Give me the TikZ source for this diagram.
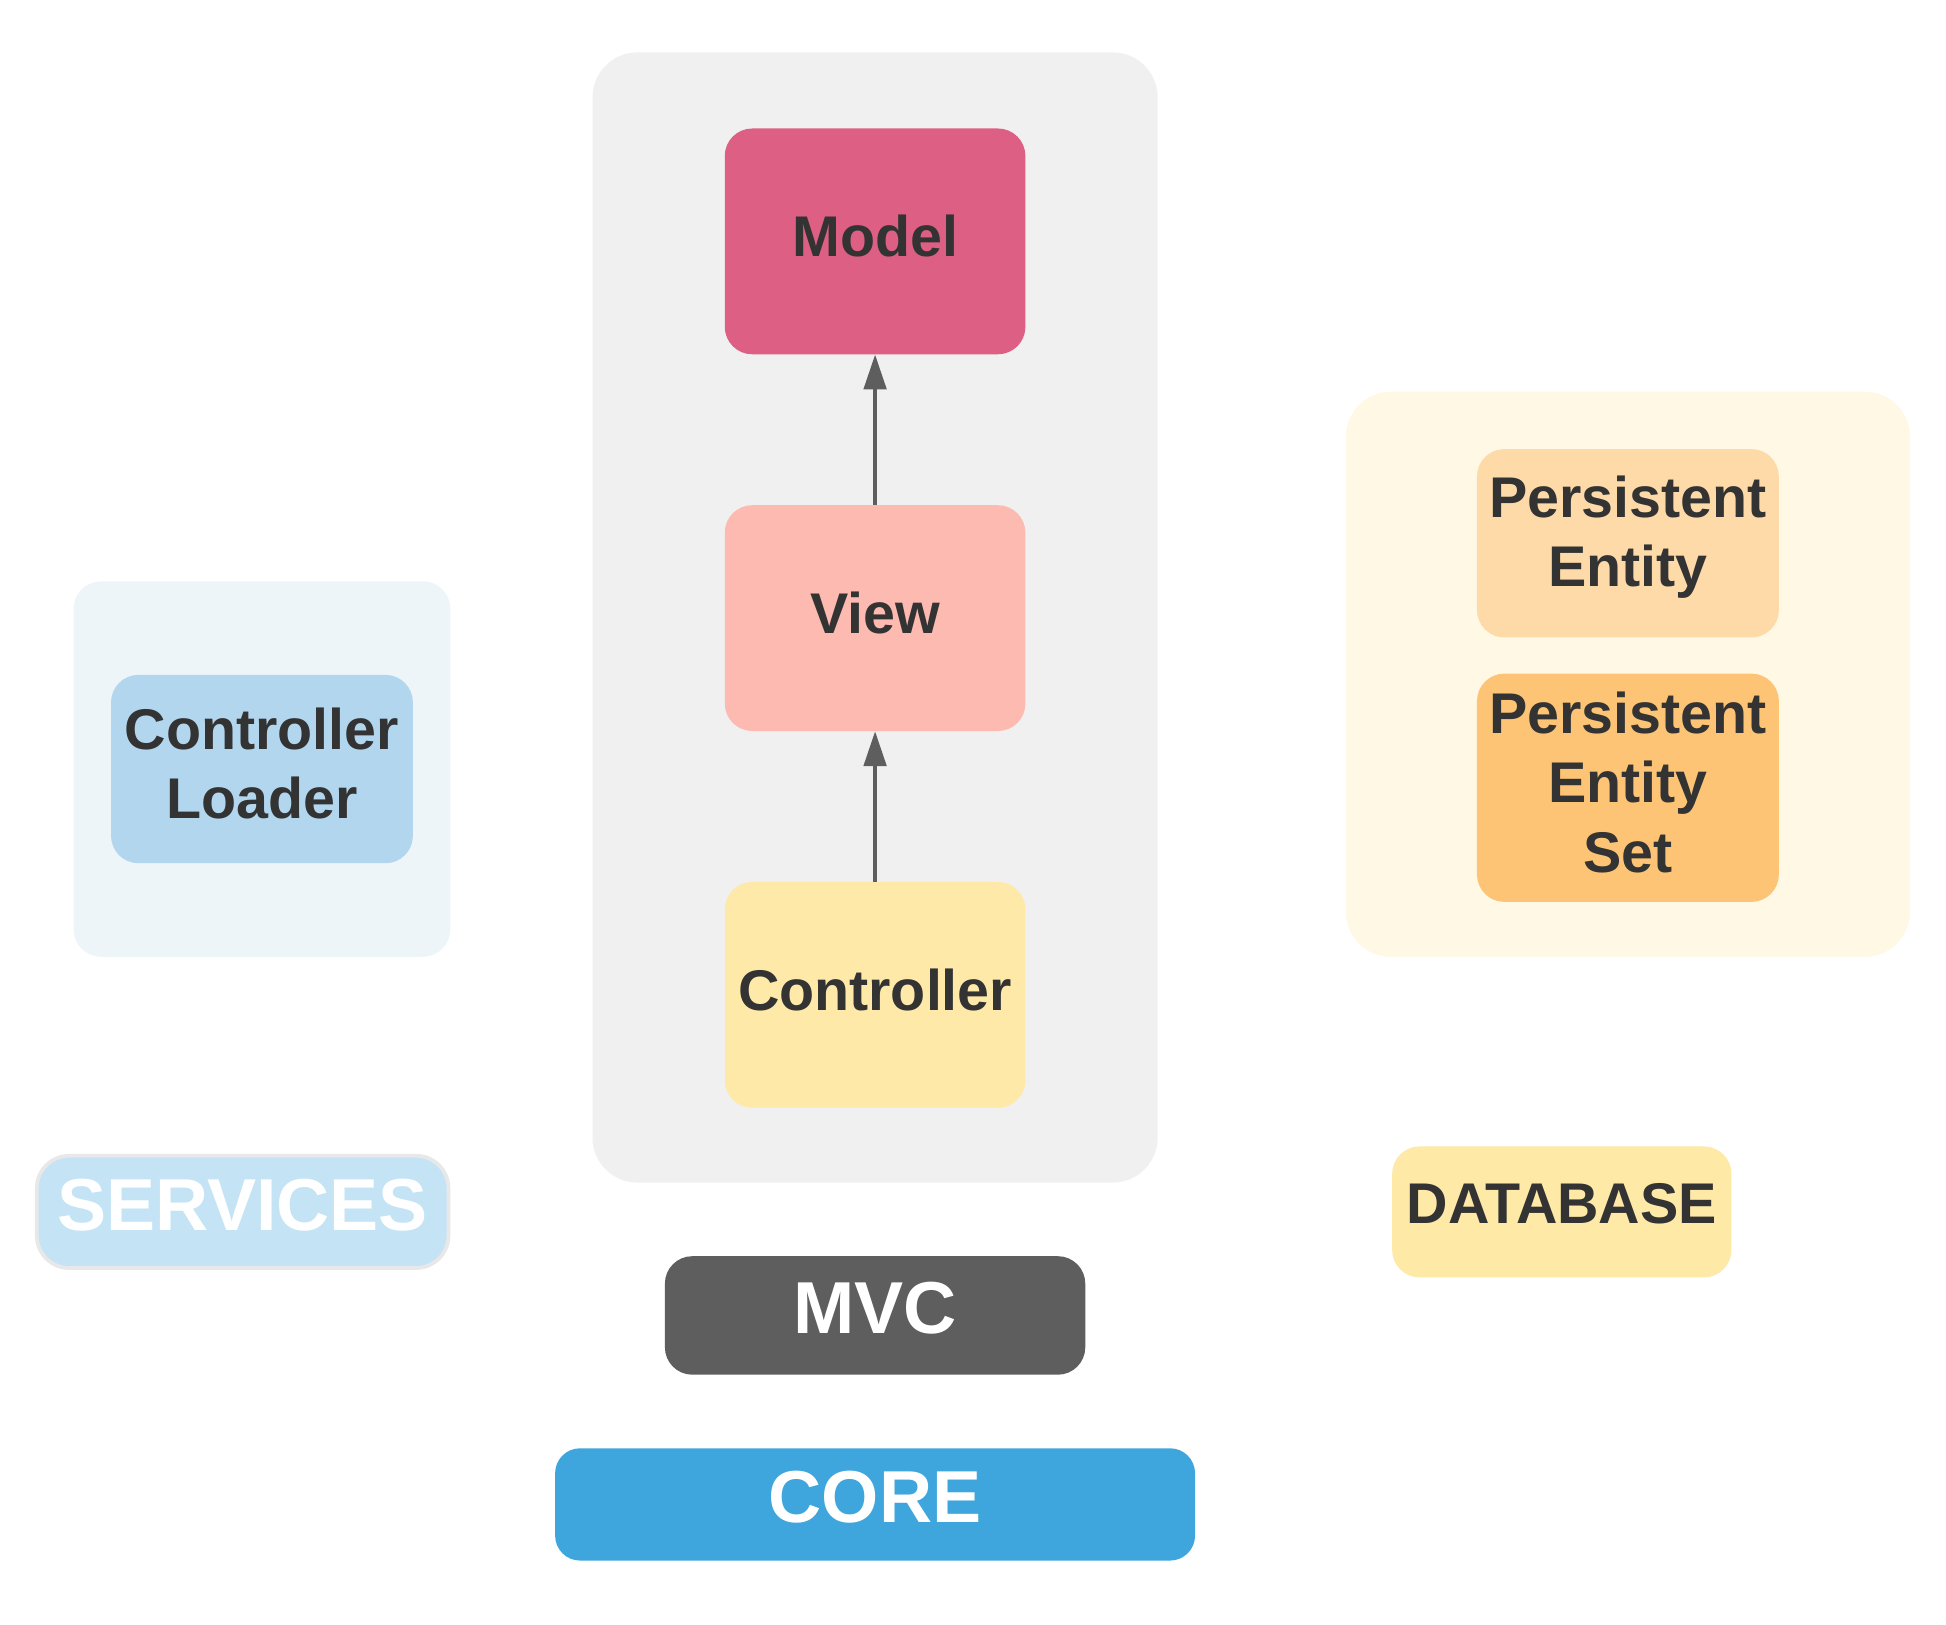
\documentclass[tikz,border=0pt]{standalone}
\usepackage{fontspec}
\setmainfont{Liberation Sans}
\usetikzlibrary{arrows.meta}
\definecolor{txt}{HTML}{333333}
\definecolor{mvcbg}{HTML}{F0F0F0}
\definecolor{modelc}{HTML}{DE5F84}
\definecolor{viewc}{HTML}{FDBAB0}
\definecolor{ctrlc}{HTML}{FEE9A9}
\definecolor{svcbg}{HTML}{EEF5F9}
\definecolor{loaderc}{HTML}{B3D6EF}
\definecolor{svclbl}{HTML}{C4E4F6}
\definecolor{svcborder}{HTML}{E8E8E8}
\definecolor{dbbg}{HTML}{FFF8E5}
\definecolor{pec}{HTML}{FDDAA7}
\definecolor{pesc}{HTML}{FDC475}
\definecolor{dblbl}{HTML}{FEE9A7}
\definecolor{mvclbl}{HTML}{5E5E5E}
\definecolor{corec}{HTML}{3EA6DD}
\definecolor{arrowc}{HTML}{5E5E5E}
\newcommand\lowtail[1]{\rule[-#1]{0pt}{#1}}
\begin{document}
\begin{tikzpicture}[x=1pt,y=-1pt,
  cont/.style={rectangle, inner sep=0pt, rounded corners=36pt},
  boxnode/.style={rectangle, inner sep=0pt, rounded corners=22pt, align=center,
    text=txt, font=\fontsize{46}{55.5}\selectfont\bfseries},
  bigl/.style={rectangle, inner sep=0pt, rounded corners=22pt, align=center,
    text=white, font=\fontsize{59}{66}\selectfont\bfseries},
  conn/.style={draw=arrowc, line width=3pt, -{Triangle[length=28pt,width=18pt]}}
]
\useasboundingbox (0,0) rectangle (1560,1302);
\fill[white] (0,0) rectangle (1560,1302);

% containers
\node[cont, fill=mvcbg, minimum width=453pt, minimum height=906pt] (mvcbox) at (701.5,495) {};
\node[cont, fill=svcbg, rounded corners=22pt, minimum width=302pt, minimum height=301pt] (svcbox) at (210,616.5) {};
\node[cont, fill=dbbg, minimum width=452pt, minimum height=453pt] (dbbox) at (1305,540.5) {};

% MVC nodes
\node[boxnode, fill=modelc, minimum width=241pt, minimum height=181pt] (model) at (701.5,193.5) {Model\lowtail{9pt}};
\node[boxnode, fill=viewc, minimum width=241pt, minimum height=181pt] (view) at (701.5,495.5) {View\lowtail{9pt}};
\node[boxnode, fill=ctrlc, minimum width=241pt, minimum height=181pt] (ctrl) at (701.5,797.5) {Controller\lowtail{9pt}};

% services
\node[boxnode, fill=loaderc, minimum width=242pt, minimum height=151pt] (loader) at (210,616.5) {Controller\\Loader\lowtail{9pt}};

% database
\node[boxnode, fill=pec, minimum width=242pt, minimum height=151pt] (pe) at (1305,435.5) {Persistent\\Entity\lowtail{19pt}};
\node[boxnode, fill=pesc, minimum width=242pt, minimum height=183pt] (pes) at (1305,631.5) {Persistent\\Entity\\Set\lowtail{9pt}};

% labels
\node[bigl, fill=svclbl, draw=svcborder, line width=3pt, rounded corners=26pt, minimum width=330pt, minimum height=90pt] (svclabel) at (194.5,971.5) {SERVICES\lowtail{12pt}};
\node[boxnode, fill=dblbl, minimum width=272pt, minimum height=105pt] (dblabel) at (1252,971.5) {DATABASE\lowtail{13pt}};
\node[bigl, fill=mvclbl, minimum width=337pt, minimum height=95pt] (mvclabel) at (701.5,1054.5) {MVC\lowtail{12pt}};
\node[bigl, fill=corec, rounded corners=20pt, minimum width=513pt, minimum height=90pt] (corelabel) at (701.5,1206) {CORE\lowtail{12pt}};

% connectors
\draw[conn] (view.north) -- (model.south);
\draw[conn] (ctrl.north) -- (view.south);
\end{tikzpicture}
\end{document}
